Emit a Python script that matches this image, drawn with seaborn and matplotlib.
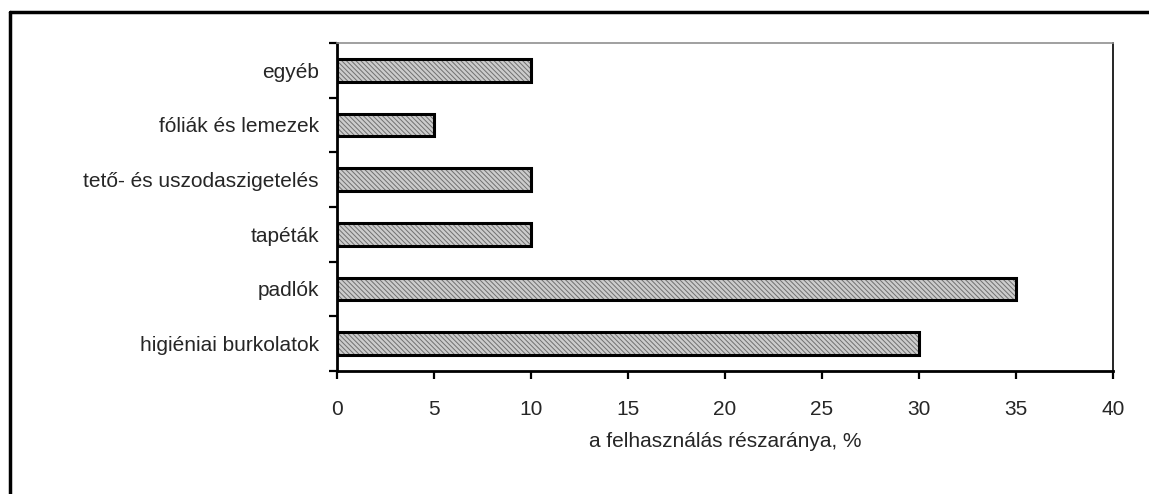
import pandas as pd
import matplotlib.pyplot as plt
import seaborn as sns
from matplotlib.lines import Line2D

# Data
categories = ['egyéb', 'fóliák és lemezek', 'tető- és uszodaszigetelés',
              'tapéták', 'padlók', 'higiéniai burkolatok']
shares = [10, 5, 10, 10, 35, 30]
x_ticks = [0, 5, 10, 15, 20, 25, 30, 35, 40]

df = pd.DataFrame({'kategoria': categories, 'reszarany': shares})

sns.set_style('white')
plt.rcParams['font.family'] = ['Liberation Sans', 'DejaVu Sans']
plt.rcParams['hatch.linewidth'] = 0.7

fig = plt.figure(figsize=(11.49, 4.94), dpi=100)
ax = fig.add_axes([0.2933, 0.249, 0.6754, 0.664])

# hatched grey fill
sns.barplot(data=df, x='reszarany', y='kategoria', orient='h', ax=ax,
            color='#cccccc', edgecolor='#707070', linewidth=0, hatch='\\\\\\\\\\\\\\',
            width=0.42, saturation=1)
# black outline on top
sns.barplot(data=df, x='reszarany', y='kategoria', orient='h', ax=ax,
            fill=False, edgecolor='black', linewidth=2.2, width=0.42)

ax.set_xlim(0, 40)
ax.set_ylim(len(categories) - 0.5, -0.5)
ax.set_xticks(x_ticks)
ax.set_xticklabels([str(t) for t in x_ticks])
ax.set_yticks(range(len(categories)))
ax.set_yticklabels(categories)
ax.set_yticks([i - 0.5 for i in range(len(categories) + 1)], minor=True)

ax.tick_params(axis='y', which='major', length=0, pad=13, labelsize=15)
ax.tick_params(axis='y', which='minor', left=True, direction='out', length=5.5, width=1.6, color='black')
ax.tick_params(axis='x', bottom=True, direction='out', length=5.5, width=1.6, color='black',
               labelsize=15, pad=15.5)

ax.set_xlabel('a felhasználás részaránya, %', fontsize=15, labelpad=9)
ax.set_ylabel('')

for side in ['left', 'bottom']:
    ax.spines[side].set_color('black')
    ax.spines[side].set_linewidth(2)
ax.spines['right'].set_color('black')
ax.spines['right'].set_linewidth(1.2)
ax.spines['top'].set_color('#909090')
ax.spines['top'].set_linewidth(1.2)

# outer chart frame (only top and left visible in the crop)
fx = 10 / 1149
fy = 1 - 12 / 494
fig.add_artist(Line2D([fx, fx], [0, fy], transform=fig.transFigure, color='black', linewidth=2.5))
fig.add_artist(Line2D([fx, 1], [fy, fy], transform=fig.transFigure, color='black', linewidth=2.5))

fig.savefig('out.png', dpi=100, facecolor='white')
